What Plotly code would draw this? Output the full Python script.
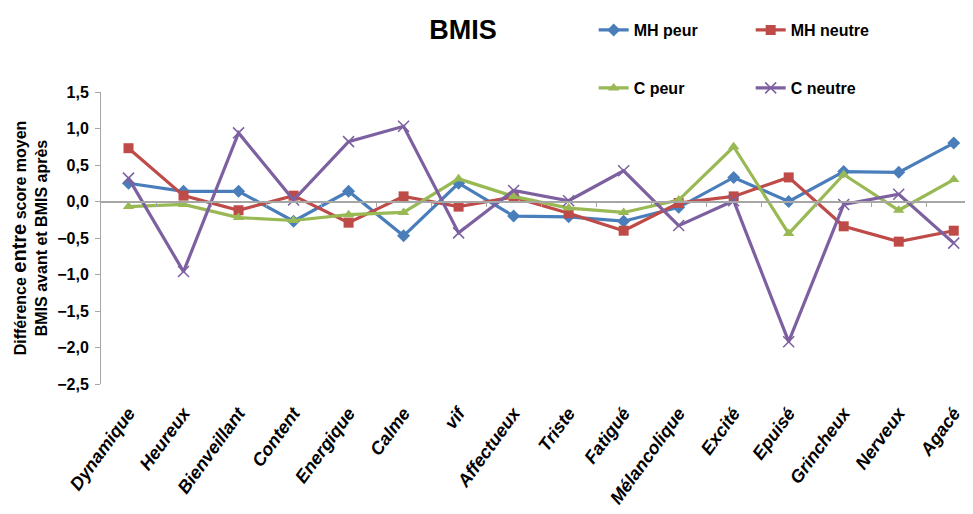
import plotly.graph_objects as go

categories = ["Dynamique", "Heureux", "Bienveillant", "Content", "Energique", "Calme", "vif",
              "Affectueux", "Triste", "Fatigué", "Mélancolique", "Excité", "Epuisé",
              "Grincheux", "Nerveux", "Agacé"]

mh_peur = [0.25, 0.14, 0.14, -0.27, 0.14, -0.47, 0.25, -0.20, -0.21, -0.27, -0.08, 0.33, 0.00, 0.41, 0.40, 0.80]
mh_neutre = [0.73, 0.08, -0.12, 0.08, -0.29, 0.07, -0.07, 0.06, -0.16, -0.40, -0.02, 0.07, 0.33, -0.34, -0.55, -0.40]
c_peur = [-0.07, -0.04, -0.22, -0.26, -0.18, -0.15, 0.31, 0.07, -0.09, -0.15, 0.02, 0.75, -0.44, 0.37, -0.12, 0.30]
c_neutre = [0.32, -0.96, 0.94, 0.02, 0.82, 1.03, -0.43, 0.15, 0.01, 0.42, -0.33, 0.01, -1.92, -0.04, 0.10, -0.57]

y_ticks = [1.5, 1.0, 0.5, 0.0, -0.5, -1.0, -1.5, -2.0, -2.5]

FONT = "Liberation Sans"
x = list(range(len(categories)))

series = [
    ("MH peur", mh_peur, "#4A7EBB", "diamond", "legend"),
    ("MH neutre", mh_neutre, "#BE4B48", "square", "legend"),
    ("C peur", c_peur, "#98B954", "triangle-up", "legend2"),
    ("C neutre", c_neutre, "#7D60A0", "x-thin-open", "legend2"),
]

fig = go.Figure()

# dummy trace so the zero-crossing category axis gets drawn
fig.add_trace(go.Scatter(x=[0], y=[0], xaxis="x2", mode="markers",
                         marker=dict(opacity=0), showlegend=False, hoverinfo="skip"))

for name, vals, color, symbol, leg in series:
    if symbol == "x-thin-open":
        marker = dict(symbol=symbol, size=11, color=color, line=dict(width=1.5, color=color))
    else:
        marker = dict(symbol=symbol, size=10, color=color)
    fig.add_trace(go.Scatter(x=x, y=vals, name=name, mode="lines+markers",
                             line=dict(color=color, width=3.2), marker=marker, legend=leg))

legend_font = dict(size=16, family=FONT, weight="bold")

# page body has an 8px margin, so the figure is sized/offset to compensate
fig.update_layout(
    width=965, height=506,
    margin=dict(l=93, r=0, t=84, b=130),
    plot_bgcolor="white", paper_bgcolor="white",
    separators=", ",
    font=dict(family=FONT, color="black"),
    title=dict(text="<b>BMIS</b>", x=0.4715, xanchor="center", y=0.957, yanchor="middle",
               font=dict(size=27, family=FONT, color="black")),
    xaxis=dict(range=[-0.5, 15.35], tickmode="array", tickvals=x, automargin=False,
               ticktext=[f"<i>{c}</i>" for c in categories], tickangle=-54,
               tickfont=dict(size=18, family=FONT, weight="bold"), ticklabelstandoff=14,
               showgrid=False, zeroline=False, showline=False, ticks=""),
    xaxis2=dict(overlaying="x", matches="x", anchor="free", position=0.625, automargin=False,
                showline=True, linecolor="#A6A6A6", linewidth=1.5,
                tickmode="array", tickvals=[i + 0.5 for i in x], ticks="outside",
                ticklen=5, tickcolor="#A6A6A6", showticklabels=False, showgrid=False),
    yaxis=dict(range=[-2.5, 1.5], tickvals=y_ticks, tickformat=".1f", automargin=False,
               tickfont=dict(size=16, family=FONT, weight="bold"),
               showgrid=False, zeroline=False, showline=True, linecolor="#A6A6A6",
               ticks="outside", ticklen=5, tickcolor="#A6A6A6", ticklabelstandoff=3,
               title=dict(text="<b>Différence <span style='font-size:20px'>entre</span> score moyen<br>BMIS avant et BMIS après</b>",
                          font=dict(size=16, family=FONT), standoff=17)),
    legend=dict(orientation="h", x=0.565, y=1 + (92 - 30) / 292, xanchor="left", yanchor="middle",
                entrywidth=112, font=legend_font, bgcolor="rgba(0,0,0,0)"),
    legend2=dict(orientation="h", x=0.565, y=1 + (92 - 88) / 292, xanchor="left", yanchor="middle",
                 entrywidth=112, font=legend_font, bgcolor="rgba(0,0,0,0)"),
)

fig.write_html("out.html")
